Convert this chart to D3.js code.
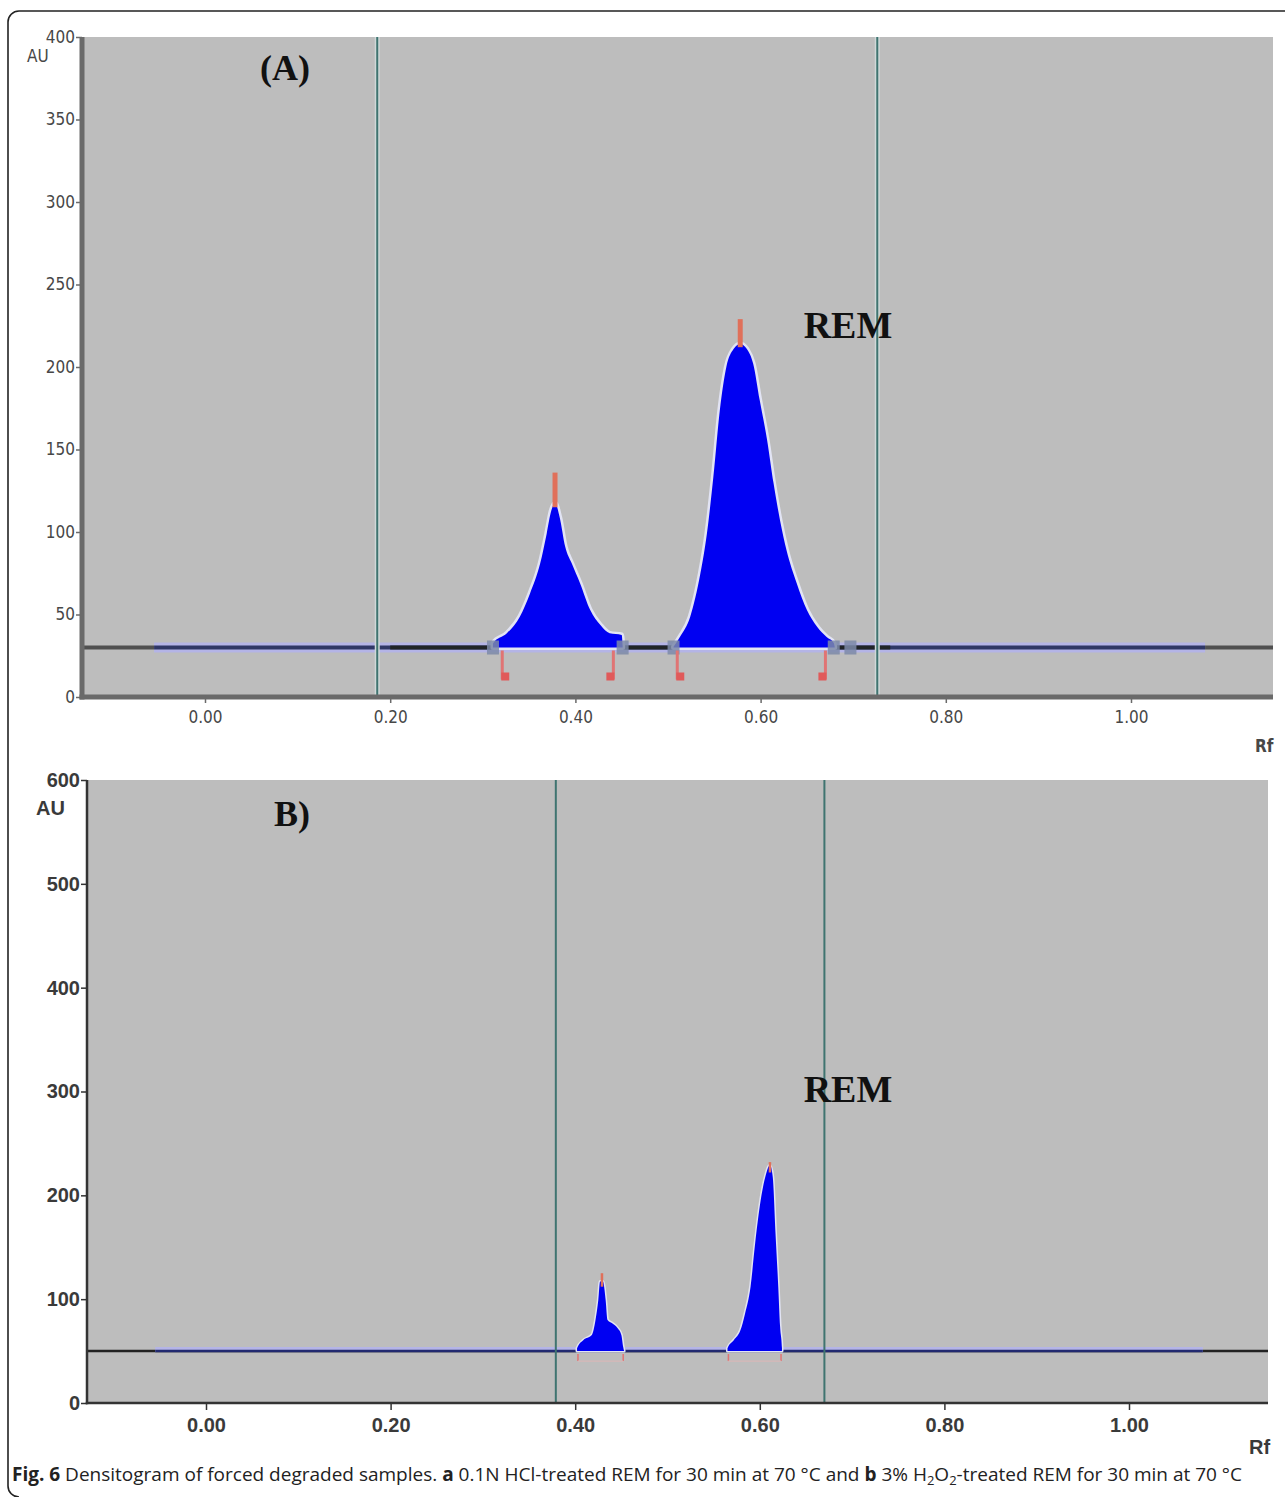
<!DOCTYPE html>
<html><head><meta charset="utf-8">
<script src="https://cdn.jsdelivr.net/npm/d3@7"></script>
<style>body{margin:0;background:#fff} svg{display:block}</style>
</head><body><svg id="c" width="1285" height="1497"></svg>
<script>
// ---------- data ----------
const ticksAy = [0, 50, 100, 150, 200, 250, 300, 350, 400];
const ticksBy = [0, 100, 200, 300, 400, 500, 600];
const ticksX = [0, 0.2, 0.4, 0.6, 0.8, 1.0];
const baselineA = 30;
const baselineB = 50;
const vlinesA = [0.186, 0.726];
const vlinesB = [0.379, 0.670];
// peak profiles [Rf, AU]
const peakA1 = [[0.311,31],[0.311,32.5],[0.326,38.6],[0.340,48.7],[0.351,62.8],[0.362,81],[0.369,99],[0.374,113],[0.378,117.4],[0.383,109],[0.389,91],[0.396,81],[0.405,69],[0.416,52.7],[0.427,43.6],[0.437,38.6],[0.450,37.6],[0.451,31]];
const peakA2 = [[0.506,30.5],[0.513,36.5],[0.524,48.7],[0.535,75],[0.542,99],[0.549,133.5],[0.556,174],[0.563,200],[0.571,211],[0.578,214],[0.585,211],[0.592,202],[0.599,180],[0.607,155.8],[0.614,129.5],[0.621,107],[0.628,89],[0.639,69],[0.650,52.7],[0.661,42.6],[0.671,36.5],[0.679,32.7],[0.680,30.5]];
const peakB1 = [[0.402,50],[0.402,52.7],[0.409,60.7],[0.418,65.5],[0.422,80],[0.425,99],[0.427,117],[0.430,117],[0.433,99],[0.435,80],[0.440,76.8],[0.446,72],[0.450,65.5],[0.452,54],[0.453,50]];
const peakB2 = [[0.565,50],[0.565,52.7],[0.572,60.7],[0.579,70],[0.584,86],[0.590,112],[0.595,154],[0.601,195.6],[0.606,218],[0.611,229],[0.614,218],[0.617,163.7],[0.620,112],[0.622,73.5],[0.624,52.7],[0.624,50]];
// peak apex markers [Rf, AU from, AU to]
const tipsA = [[0.378, 115, 136], [0.578, 212, 229]];
const tipsB = [[0.429, 112, 125], [0.611, 222, 232]];
// integration boundary markers (Rf)
const marksA = [0.321, 0.441, 0.510, 0.670];
const marksB = [0.403, 0.452, 0.566, 0.623];
const boxesA = [0.311, 0.451, 0.506, 0.679, 0.697];

const svg = d3.select("#c");

// outer frame
svg.append("path")
  .attr("d", "M1290,11 H19 A11,11 0 0 0 8,22 V1486 A11,11 0 0 0 19,1497")
  .attr("fill", "none").attr("stroke", "#222").attr("stroke-width", 1.6);

function panel(o) {
  const g = svg.append("g");
  const x = d3.scaleLinear().domain([0, 1]).range(o.xr);
  const y = d3.scaleLinear().domain([0, o.ymax]).range(o.yr);
  // background
  g.append("rect").attr("x", o.left).attr("y", o.yr[1])
    .attr("width", o.right - o.left).attr("height", o.yr[0] - o.yr[1])
    .attr("fill", "#bdbdbd");
  // baseline
  const bl = y(o.base);
  g.append("line").attr("x1", o.left).attr("x2", o.right).attr("y1", bl).attr("y2", bl)
    .attr("stroke", o.baseCol).attr("stroke-width", o.baseW);
  g.append("line").attr("x1", x(-0.055)).attr("x2", x(1.08)).attr("y1", bl - (o.isA ? 0 : 1.5)).attr("y2", bl - (o.isA ? 0 : 1.5))
    .attr("stroke", "#b4b4e6").attr("stroke-width", o.isA ? 10 : 5);
  g.append("line").attr("x1", x(-0.055)).attr("x2", x(1.08)).attr("y1", bl).attr("y2", bl)
    .attr("stroke", o.isA ? "#2f3766" : "#222a70").attr("stroke-width", o.isA ? 4 : 2.5);
  if (o.isA) {
    g.append("line").attr("x1", x(0.2)).attr("x2", x(0.74)).attr("y1", bl).attr("y2", bl)
      .attr("stroke", "#202428").attr("stroke-width", 4);
  }
  // vertical lines
  o.vlines.forEach(v => {
    if (o.isA) g.append("line").attr("x1", x(v)).attr("x2", x(v)).attr("y1", o.yr[1]).attr("y2", o.yr[0])
      .attr("stroke", "#cfd8d8").attr("stroke-width", 5);
    g.append("line").attr("x1", x(v)).attr("x2", x(v)).attr("y1", o.yr[1]).attr("y2", o.yr[0])
      .attr("stroke", "#3f7470").attr("stroke-width", 2);
  });
  // peaks
  const area = d3.area().x(d => x(d[0])).y0(bl).y1(d => y(d[1])).curve(d3.curveMonotoneX);
  o.peaks.forEach(p => {
    g.append("path").attr("d", area(p)).attr("fill", "none")
      .attr("stroke", "#e2e4f4").attr("stroke-width", o.isA ? 5 : 3).attr("stroke-linejoin", "round");
    g.append("path").attr("d", area(p)).attr("fill", "#0000f2");
  });
  // boxes on baseline (A)
  (o.boxes || []).forEach(b => {
    g.append("rect").attr("x", x(b) - 6).attr("y", bl - 7).attr("width", 12).attr("height", 14)
      .attr("fill", "#7d8aa8").attr("opacity", 0.85);
  });
  // apex markers
  o.tips.forEach(t => {
    g.append("line").attr("x1", x(t[0])).attr("x2", x(t[0])).attr("y1", y(t[1])).attr("y2", y(t[2]))
      .attr("stroke", "#e0705a").attr("stroke-width", o.isA ? 5 : 2.5);
  });
  // boundary markers
  o.marks.forEach((m, i) => {
    const len = o.isA ? 32 : 10;
    g.append("line").attr("x1", x(m)).attr("x2", x(m)).attr("y1", bl + 3).attr("y2", bl + len)
      .attr("stroke", "#e07474").attr("stroke-width", o.isA ? 3 : 1.5);
    if (o.isA) {
      const dx = (i % 2 === 0) ? 0 : -6;
      g.append("rect").attr("x", x(m) + dx - 1).attr("y", bl + len - 7).attr("width", 8).attr("height", 8)
        .attr("fill", "#e05a5a");
    }
  });
  if (!o.isA) {
    [[0, 1], [2, 3]].forEach(([a, b]) => {
      g.append("line").attr("x1", x(o.marks[a])).attr("x2", x(o.marks[b])).attr("y1", bl + 10).attr("y2", bl + 10)
        .attr("stroke", "#d8b8b8").attr("stroke-width", 1.2);
    });
  }
  // axes
  const ax = g.append("g").attr("transform", `translate(0,${o.yr[0]})`)
    .call(d3.axisBottom(x).tickValues(ticksX).tickFormat(d3.format(".2f")).tickSize(o.isA ? 6 : 7).tickSizeOuter(0));
  ax.select(".domain").remove();
  ax.selectAll(".tick line").attr("stroke", o.axCol).attr("stroke-width", 1.5);
  ax.selectAll(".tick text").attr("fill", o.txtCol).attr("font-family", o.font).attr("font-size", o.fs)
    .attr("dy", o.isA ? "1.0em" : "0.95em").attr("font-weight", o.fw);
  const ay = g.append("g").attr("transform", `translate(${o.axX},0)`)
    .call(d3.axisLeft(y).tickValues(o.ticksY).tickSize(6).tickSizeOuter(0).tickFormat(d3.format("d")));
  ay.select(".domain").remove();
  ay.selectAll(".tick line").attr("stroke", o.axCol).attr("stroke-width", 1.5);
  ay.selectAll(".tick text").attr("fill", o.txtCol).attr("font-family", o.font).attr("font-size", o.fs)
    .attr("font-weight", o.fw).attr("x", -7);
  // axis lines
  g.append("line").attr("x1", o.axX).attr("x2", o.axX).attr("y1", o.yr[1]).attr("y2", o.yr[0] + o.axW / 2)
    .attr("stroke", o.axCol).attr("stroke-width", o.axW);
  g.append("line").attr("x1", o.axX - o.axW / 2).attr("x2", o.right).attr("y1", o.yr[0]).attr("y2", o.yr[0])
    .attr("stroke", o.axCol).attr("stroke-width", o.axW);
  // AU / Rf
  g.append("text").attr("x", o.auX).attr("y", o.auY).text("AU")
    .attr("fill", o.txtCol).attr("font-family", o.font).attr("font-size", o.fs).attr("font-weight", o.fw);
  g.append("text").attr("x", o.rfX).attr("y", o.rfY).text("Rf")
    .attr("fill", o.txtCol).attr("font-family", o.font).attr("font-size", o.fs).attr("font-weight", "bold");
  // labels
  g.append("text").attr("x", o.lab[0]).attr("y", o.lab[1]).text(o.labText)
    .attr("font-family", "Liberation Serif, Times New Roman, serif").attr("font-weight", "bold")
    .attr("font-size", 36).attr("text-anchor", "middle").attr("fill", "#111");
  g.append("text").attr("x", 848).attr("y", o.rem).text("REM")
    .attr("font-family", "Liberation Serif, Times New Roman, serif").attr("font-weight", "bold")
    .attr("font-size", 38).attr("text-anchor", "middle").attr("fill", "#111");
}

panel({
  isA: true, xr: [205, 1131], yr: [697, 37], ymax: 400, left: 82, right: 1273, axX: 82,
  base: baselineA, baseCol: "#505050", baseW: 4, vlines: vlinesA, peaks: [peakA1, peakA2],
  tips: tipsA, marks: marksA, boxes: boxesA, ticksY: ticksAy, axCol: "#6a6a6a", axW: 5,
  txtCol: "#474747", font: "DejaVu Sans Condensed, DejaVu Sans, sans-serif", fs: 17, fw: "normal",
  auX: 27, auY: 62, rfX: 1255, rfY: 752, lab: [285, 80], labText: "(A)", rem: 338
});
panel({
  isA: false, xr: [206, 1129], yr: [1403, 780], ymax: 600, left: 87, right: 1268, axX: 87,
  base: baselineB, baseCol: "#222", baseW: 2.5, vlines: vlinesB, peaks: [peakB1, peakB2],
  tips: tipsB, marks: marksB, ticksY: ticksBy, axCol: "#333", axW: 2.5,
  txtCol: "#3a3a3a", font: "Liberation Sans, Arial, sans-serif", fs: 20, fw: "bold",
  auX: 36, auY: 815, rfX: 1249, rfY: 1454, lab: [292, 826], labText: "B)", rem: 1102
});

// caption
const cap = svg.append("text").attr("x", 12).attr("y", 1481)
  .attr("font-family", "Open Sans, sans-serif").attr("font-size", 19).attr("fill", "#222");
const parts = [
  ["Fig. 6", "bold"], [" Densitogram of forced degraded samples. ", "normal"], ["a", "bold"],
  [" 0.1N HCl-treated REM for 30 min at 70 °C and ", "normal"], ["b", "bold"], [" 3% H", "normal"],
  ["2", "sub"], ["O", "normal"], ["2", "sub"], ["-treated REM for 30 min at 70 °C", "normal"]
];
let sub = false;
parts.forEach(([t, s]) => {
  const ts = cap.append("tspan").text(t);
  if (s === "bold") ts.attr("font-weight", "bold");
  if (s === "sub") { ts.attr("font-size", 13).attr("dy", 4); sub = true; }
  else if (sub) { ts.attr("dy", -4); sub = false; }
});
</script></body></html>
